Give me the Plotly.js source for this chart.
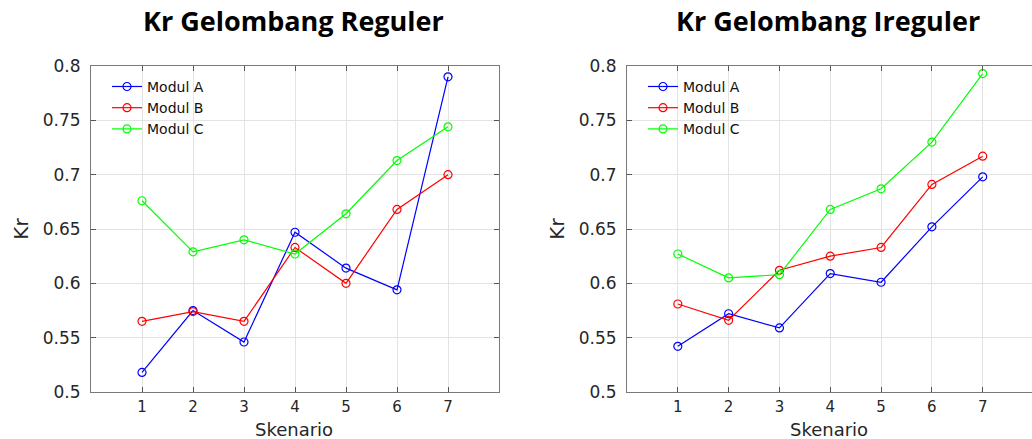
<!DOCTYPE html>
<html>
<head>
<meta charset="utf-8">
<script src="https://cdn.plot.ly/plotly-3.0.1.min.js"></script>
<style>html,body{margin:0;padding:0;background:#fff;}#chart{width:1032px;height:439px;}</style>
</head>
<body>
<div id="chart"></div>
<script>
const skenario = [1, 2, 3, 4, 5, 6, 7];
const seriesNames = ['Modul A', 'Modul B', 'Modul C'];
const seriesColors = ['#0000ff', '#ff0000', '#00ff00'];

// Kr Gelombang Reguler
const regA = [0.518, 0.575, 0.546, 0.647, 0.614, 0.594, 0.790];
const regB = [0.565, 0.574, 0.565, 0.633, 0.600, 0.668, 0.700];
const regC = [0.676, 0.629, 0.640, 0.627, 0.664, 0.713, 0.744];

// Kr Gelombang Ireguler
const iregA = [0.542, 0.572, 0.559, 0.609, 0.601, 0.652, 0.698];
const iregB = [0.581, 0.566, 0.612, 0.625, 0.633, 0.691, 0.717];
const iregC = [0.627, 0.605, 0.608, 0.668, 0.687, 0.730, 0.793];

const titles = ['Kr Gelombang Reguler', 'Kr Gelombang Ireguler'];
const xTitle = 'Skenario';
const yTitle = 'Kr';

const FONT = 'DejaVu Sans, sans-serif';
const TXT = '#262626';

function mk(y, i, xa, ya, lg) {
  return {
    x: skenario, y: y, name: seriesNames[i], type: 'scatter', mode: 'lines+markers',
    xaxis: xa, yaxis: ya, legend: lg,
    line: {color: seriesColors[i], width: 1.2},
    marker: {symbol: 'circle-open', size: 8, color: seriesColors[i], line: {width: 1.2, color: seriesColors[i]}}
  };
}

const traces = [
  mk(regA, 0, 'x', 'y', 'legend'), mk(regB, 1, 'x', 'y', 'legend'), mk(regC, 2, 'x', 'y', 'legend'),
  mk(iregA, 0, 'x2', 'y2', 'legend2'), mk(iregB, 1, 'x2', 'y2', 'legend2'), mk(iregC, 2, 'x2', 'y2', 'legend2')
];

function xax(domain, range, anchor, mirror) {
  return {
    domain: domain, range: range, anchor: anchor,
    tickvals: skenario, ticktext: skenario.map(String),
    showgrid: true, gridcolor: '#e3e3e3', gridwidth: 1, zeroline: false,
    showline: true, linecolor: '#7a7a7a', linewidth: 1, mirror: mirror,
    ticks: 'inside', ticklen: 5, tickcolor: '#555',
    ticklabelstandoff: 1,
    tickfont: {family: FONT, size: 15, color: TXT}
  };
}
function yax(domain, anchor, mirror) {
  return {
    domain: domain, range: [0.5, 0.8], anchor: anchor,
    tickvals: [0.5, 0.55, 0.6, 0.65, 0.7, 0.75, 0.8],
    ticktext: ['0.5', '0.55', '0.6', '0.65', '0.7', '0.75', '0.8'],
    showgrid: true, gridcolor: '#e3e3e3', gridwidth: 1, zeroline: false,
    showline: true, linecolor: '#7a7a7a', linewidth: 1, mirror: mirror,
    ticks: 'inside', ticklen: 5, tickcolor: '#555',
    ticklabelstandoff: 6,
    tickfont: {family: FONT, size: 17, color: TXT},
    title: {text: yTitle, font: {family: FONT, size: 20, color: TXT}, standoff: 8}
  };
}

const W = 1032;
const d1 = [91 / W, 499 / W];
const d2 = [627 / W, 1];

const legFont = {family: FONT, size: 14, color: '#111'};
const titleFont = {family: 'Open Sans, sans-serif', size: 27, color: '#000'};
const xTitleFont = {family: FONT, size: 18, color: TXT};
const layout = {
  width: 1032, height: 439,
  margin: {l: 0, r: 0, t: 66, b: 47},
  paper_bgcolor: '#fff', plot_bgcolor: '#fff',
  showlegend: true,
  xaxis: xax(d1, [0, 8], 'y', 'ticks'),
  yaxis: yax([0, 1], 'x', 'ticks'),
  xaxis2: xax(d2, [0, 7.97], 'y2', 'ticks'),
  yaxis2: yax([0, 1], 'x2', false),
  legend: {x: 107 / W, y: 0.985, xanchor: 'left', yanchor: 'top', bgcolor: 'rgba(0,0,0,0)',
           font: legFont, tracegroupgap: 0, itemwidth: 30},
  legend2: {x: 643 / W, y: 0.985, xanchor: 'left', yanchor: 'top', bgcolor: 'rgba(0,0,0,0)',
            font: legFont, tracegroupgap: 0, itemwidth: 30},
  annotations: [
    {text: '<b>' + titles[0] + '</b>', xref: 'paper', yref: 'paper', x: 293 / W, y: (392 - 21) / 326,
     xanchor: 'center', yanchor: 'middle', showarrow: false, font: titleFont},
    {text: '<b>' + titles[1] + '</b>', xref: 'paper', yref: 'paper', x: 828 / W, y: (392 - 21) / 326,
     xanchor: 'center', yanchor: 'middle', showarrow: false, font: titleFont},
    {text: xTitle, xref: 'paper', yref: 'paper', x: 294 / W, y: (392 - 429) / 326,
     xanchor: 'center', yanchor: 'middle', showarrow: false, font: xTitleFont},
    {text: xTitle, xref: 'paper', yref: 'paper', x: 829 / W, y: (392 - 429) / 326,
     xanchor: 'center', yanchor: 'middle', showarrow: false, font: xTitleFont}
  ]
};

Plotly.newPlot('chart', traces, layout, {displayModeBar: false, staticPlot: true});
</script>
</body>
</html>
